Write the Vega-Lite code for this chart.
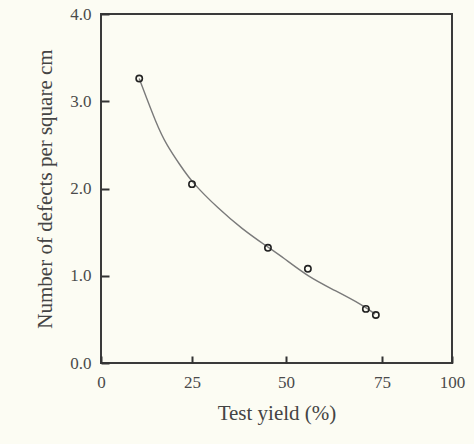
{
  "$schema": "https://vega.github.io/schema/vega-lite/v6.json",
  "width": 351,
  "height": 349,
  "autosize": {"type": "none"},
  "padding": {"left": 101, "top": 14, "right": 22, "bottom": 81},
  "background": "#fcfcf3",
  "config": {
    "font": "Liberation Serif",
    "view": {"stroke": "#3a3a3a", "strokeWidth": 2},
    "axis": {
      "domain": false,
      "grid": false,
      "zindex": 1,
      "tickColor": "#333333",
      "tickWidth": 2,
      "labelFont": "Liberation Serif",
      "labelFontSize": 17,
      "labelColor": "#4a4a4a",
      "titleFont": "Liberation Serif",
      "titleFontWeight": "normal",
      "titleFontSize": 21,
      "titleColor": "#444444"
    }
  },
  "datasets": {
    "curve": [
      {"yield": 10.5, "defects": 3.26},
      {"yield": 15.3, "defects": 2.73},
      {"yield": 18.0, "defects": 2.50},
      {"yield": 21.7, "defects": 2.27},
      {"yield": 25.0, "defects": 2.07},
      {"yield": 32.0, "defects": 1.77},
      {"yield": 38.2, "defects": 1.54},
      {"yield": 45.1, "defects": 1.33},
      {"yield": 48.9, "defects": 1.22},
      {"yield": 55.7, "defects": 0.99},
      {"yield": 62.8, "defects": 0.83},
      {"yield": 70.1, "defects": 0.66},
      {"yield": 73.2, "defects": 0.56}
    ],
    "points": [
      {"yield": 10.5, "defects": 3.26},
      {"yield": 25.0, "defects": 2.05},
      {"yield": 45.2, "defects": 1.32},
      {"yield": 55.7, "defects": 1.08},
      {"yield": 70.8, "defects": 0.62},
      {"yield": 73.4, "defects": 0.55}
    ]
  },
  "encoding": {
    "x": {
      "field": "yield",
      "type": "quantitative",
      "title": "Test yield (%)",
      "scale": {"domain": [0, 25, 50, 75, 100], "range": [0, 91, 185, 281, 351], "nice": false, "zero": false},
      "axis": {"values": [0, 25, 50, 75, 100], "tickSize": -7, "labelPadding": 18, "titlePadding": 12, "labelFlush": false}
    },
    "y": {
      "field": "defects",
      "type": "quantitative",
      "title": "Number of defects per square cm",
      "scale": {"domain": [0, 4], "nice": false},
      "axis": {"values": [0, 1, 2, 3, 4], "format": ".1f", "tickSize": -8, "labelPadding": 18, "titlePadding": 14, "labelFlush": false}
    }
  },
  "layer": [
    {
      "data": {"name": "curve"},
      "mark": {"type": "line", "interpolate": "basis", "color": "#7a7a7a", "strokeWidth": 1.4}
    },
    {
      "data": {"name": "points"},
      "mark": {"type": "point", "shape": "circle", "filled": false, "stroke": "#222222", "strokeWidth": 1.6, "size": 40, "opacity": 1}
    }
  ]
}
